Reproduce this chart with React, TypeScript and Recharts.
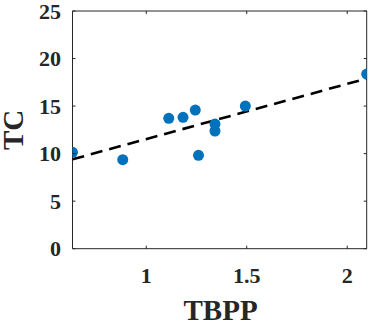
import React from "react";
import { ScatterChart, Scatter, XAxis, YAxis } from "recharts";

const tbpp = [0.633, 0.883, 1.112, 1.183, 1.244, 1.26, 1.342, 1.342, 1.493, 2.097];
const tc = [10.14, 9.36, 13.71, 13.82, 14.58, 9.82, 13.11, 12.38, 15.0, 18.37];
const fitX = [0.633, 2.097];
const fitY = [9.4, 17.9];
const xTicks = [1, 1.5, 2];
const yTicks = [0, 5, 10, 15, 20, 25];
const xDomain = [0.633, 2.097];
const yDomain = [0, 25];

const points = tbpp.map((x, i) => ({ x, y: tc[i] }));
const fit = fitX.map((x, i) => ({ x, y: fitY[i] }));

const INK = "#262626";
const textStyle = (size: number): React.CSSProperties => ({
  fontFamily: "Liberation Serif, Times New Roman, serif",
  fontWeight: 700,
  fontSize: size,
  fill: INK,
});

const BottomTick = (props: any) => {
  const { x, y, payload } = props;
  return (
    <g>
      <line x1={x} y1={y} x2={x} y2={y - 3} stroke={INK} strokeWidth={1} />
      <text x={x} y={y + 34.6} textAnchor="middle" style={textStyle(22)}>
        {payload.value}
      </text>
    </g>
  );
};

const TopTick = (props: any) => {
  const { x, y } = props;
  return <line x1={x} y1={y} x2={x} y2={y + 3} stroke={INK} strokeWidth={1} />;
};

const LeftTick = (props: any) => {
  const { x, y, payload } = props;
  return (
    <g>
      <line x1={x} y1={y} x2={x + 3} y2={y} stroke={INK} strokeWidth={1} />
      <text x={x - 11.5} y={y + 7.5} textAnchor="end" style={textStyle(22)}>
        {payload.value}
      </text>
    </g>
  );
};

const RightTick = (props: any) => {
  const { x, y } = props;
  return <line x1={x} y1={y} x2={x - 3} y2={y} stroke={INK} strokeWidth={1} />;
};

const Dot = (props: any) => <circle cx={props.cx} cy={props.cy} r={5.5} fill="#0072BD" />;
const NoDot = () => <g />;

const XLabel = (props: any) => {
  const vb = props.viewBox || {};
  return (
    <text x={vb.x + vb.width / 2 + 1} y={vb.y + 71} textAnchor="middle" style={textStyle(29)}>
      TBPP
    </text>
  );
};

const YLabel = (props: any) => {
  const vb = props.viewBox || {};
  const cx = 23.5;
  const cy = vb.y + vb.height / 2;
  return (
    <text x={cx} y={cy} transform={`rotate(-90, ${cx}, ${cy})`} textAnchor="middle" style={textStyle(29)}>
      TC
    </text>
  );
};

export default function App() {
  return (
    <div style={{ position: "absolute", left: 0, top: 0, width: 376, height: 323, background: "#fff" }}>
      <ScatterChart width={376} height={323} margin={{ top: 0, right: 0, bottom: 0, left: 0 }}>
        <XAxis
          xAxisId="b"
          type="number"
          dataKey="x"
          domain={xDomain}
          ticks={xTicks}
          allowDataOverflow
          orientation="bottom"
          height={74.3}
          tickSize={0}
          tickMargin={0}
          tickLine={false}
          tick={<BottomTick />}
          axisLine={{ stroke: INK, strokeWidth: 1 }}
          label={<XLabel />}
        />
        <XAxis
          xAxisId="t"
          type="number"
          dataKey="x"
          domain={xDomain}
          ticks={xTicks}
          allowDataOverflow
          orientation="top"
          height={11}
          tickSize={0}
          tickMargin={0}
          tickLine={false}
          tick={<TopTick />}
          axisLine={{ stroke: INK, strokeWidth: 1 }}
        />
        <YAxis
          yAxisId="l"
          type="number"
          dataKey="y"
          domain={yDomain}
          ticks={yTicks}
          allowDataOverflow
          orientation="left"
          width={72.5}
          tickSize={0}
          tickMargin={0}
          tickLine={false}
          tick={<LeftTick />}
          axisLine={{ stroke: INK, strokeWidth: 1 }}
          label={<YLabel />}
        />
        <YAxis
          yAxisId="r"
          type="number"
          dataKey="y"
          domain={yDomain}
          ticks={yTicks}
          allowDataOverflow
          orientation="right"
          width={9.3}
          tickSize={0}
          tickMargin={0}
          tickLine={false}
          tick={<RightTick />}
          axisLine={{ stroke: INK, strokeWidth: 1 }}
        />
        <Scatter
          xAxisId="b"
          yAxisId="l"
          data={fit}
          fill="#000"
          shape={<NoDot />}
          line={{ stroke: "#000", strokeWidth: 2.6, strokeDasharray: "12 7" }}
          isAnimationActive={false}
        />
        <Scatter xAxisId="b" yAxisId="l" data={points} fill="#0072BD" shape={<Dot />} isAnimationActive={false} />
      </ScatterChart>
    </div>
  );
}
